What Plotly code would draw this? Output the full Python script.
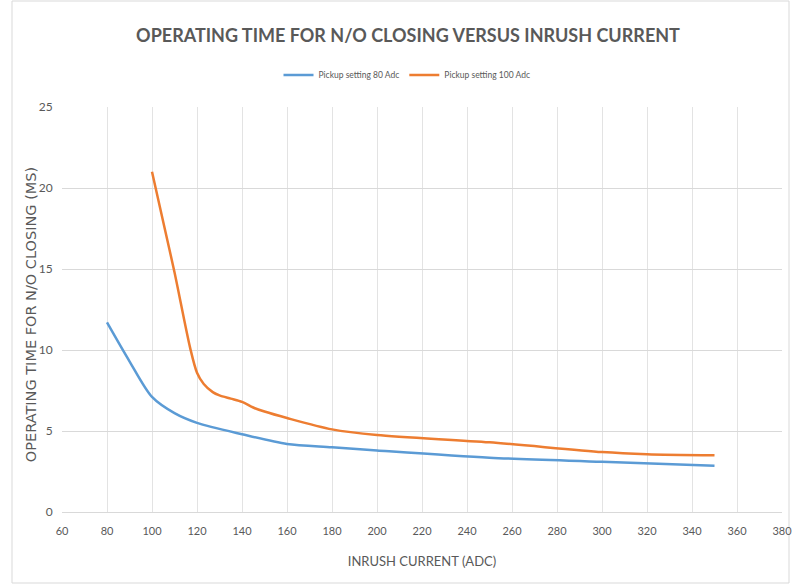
import plotly.graph_objects as go

x_80 = [80, 90, 100, 110, 120, 140, 160, 180, 200, 250, 300, 350]
y_80 = [11.7, 9.3, 7.1, 6.1, 5.5, 4.8, 4.2, 4.0, 3.8, 3.35, 3.1, 2.85]

x_100 = [100, 105, 110, 117, 120, 123, 127, 130, 135, 140, 145, 150, 160, 180, 200, 250, 300, 320, 350]
y_100 = [21.0, 17.9, 14.8, 10.1, 8.6, 7.9, 7.4, 7.2, 7.0, 6.8, 6.45, 6.2, 5.8, 5.1, 4.75, 4.3, 3.7, 3.57, 3.5]

series_names = ["Pickup setting 80 Adc", "Pickup setting 100 Adc"]

x_ticks = list(range(60, 381, 20))
y_ticks = list(range(0, 26, 5))

font_c = "Lato, Roboto, sans-serif"
grey = "#595959"

W, H = 792, 587
L, R, T, B = 62, 10, 107, 75
PW, PH = W - L - R, H - T - B

fig = go.Figure()
fig.add_trace(go.Scatter(x=x_80, y=y_80, mode="lines", name=series_names[0],
                         line=dict(color="#5b9bd5", width=2.5, shape="spline", smoothing=0.8)))
fig.add_trace(go.Scatter(x=x_100, y=y_100, mode="lines", name=series_names[1],
                         line=dict(color="#ed7d31", width=2.5, shape="spline", smoothing=0.8)))

fig.update_layout(
    width=W, height=H,
    margin=dict(l=L, r=R, t=T, b=B),
    plot_bgcolor="white", paper_bgcolor="white",
    title=dict(text="<b>OPERATING TIME FOR N/O CLOSING VERSUS INRUSH CURRENT</b>",
               x=408 / W, xanchor="center", y=1 - 36 / H, yanchor="middle",
               font=dict(family=font_c, size=18, color=grey)),
    legend=dict(orientation="h", x=(407 - L) / PW, xanchor="center",
                y=1 + (T - 75) / PH, yanchor="middle",
                font=dict(family=font_c, size=8.5, color=grey), itemwidth=30),
    xaxis=dict(range=[60, 380], tickvals=x_ticks, showgrid=True, gridcolor="#e3e3e3",
               zeroline=False, showline=True, linecolor="#d9d9d9", automargin=False,
               ticks="outside", ticklen=9, tickcolor="rgba(0,0,0,0)",
               ticklabeloverflow="allow",
               tickfont=dict(family=font_c, size=11, color=grey),
               title=dict(text="INRUSH CURRENT (ADC)", standoff=20,
                          font=dict(family=font_c, size=13, color=grey))),
    yaxis=dict(range=[0, 25], tickvals=y_ticks, showgrid=True, gridcolor="#d9d9d9",
               zeroline=False, showline=False, automargin=False,
               ticks="outside", ticklen=6, tickcolor="rgba(0,0,0,0)",
               tickfont=dict(family=font_c, size=12, color=grey)),
)

fig.add_annotation(text="OPERATING TIME FOR N/O CLOSING (MS)", textangle=-90,
                   xref="paper", yref="paper", x=(31 - L) / PW, y=0.486,
                   xanchor="center", yanchor="middle", showarrow=False,
                   font=dict(family="DejaVu Sans, sans-serif", size=14.5, color=grey))

fig.add_shape(type="rect", xref="paper", yref="paper",
              x0=(12 - L) / PW, x1=(789 - L) / PW, y0=-(583 - (T + PH)) / PH, y1=1 + (T - 1) / PH,
              line=dict(color="#d9d9d9", width=1), layer="below")

fig.write_html(
    "out.html",
    config={"displayModeBar": False},
    post_script="document.body.style.margin='0';document.body.style.overflow='hidden';",
)
